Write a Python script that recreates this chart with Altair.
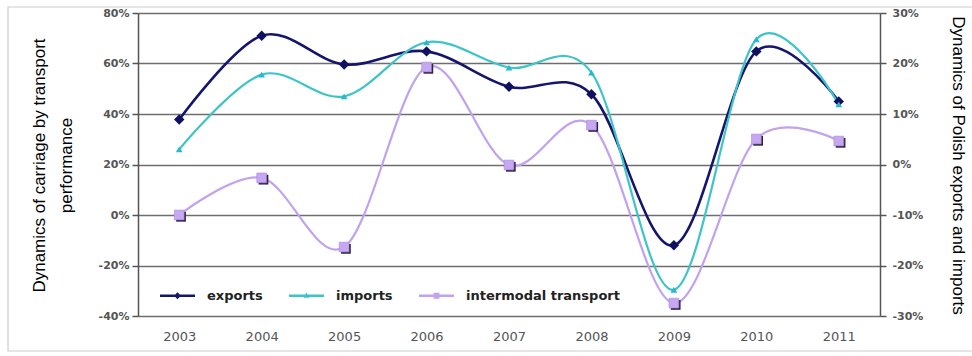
import altair as alt
import pandas as pd

years = ["2003", "2004", "2005", "2006", "2007", "2008", "2009", "2010", "2011"]
exports = [8.9, 25.5, 19.8, 22.4, 15.4, 13.9, -16.0, 22.4, 12.5]
imports = [3.0, 17.8, 13.5, 24.2, 19.2, 18.2, -24.8, 24.8, 11.9]
intermodal = [0.0, 14.7, -12.7, 58.6, 19.8, 35.6, -34.9, 30.1, 29.3]

series_names = ["exports", "imports", "intermodal transport"]
series_colors = ["#15156e", "#3cc4c8", "#c2a2ee"]

left_ticks = [-40, -20, 0, 20, 40, 60, 80]
right_ticks = [-30, -20, -10, 0, 10, 20, 30]

df_left = pd.DataFrame({"year": years, "value": intermodal})
df_exp = pd.DataFrame({"year": years, "value": exports})
df_imp = pd.DataFrame({"year": years, "value": imports})

W, H = 742, 303
FONT = "DejaVu Sans"

x_axis = alt.Axis(
    title=None, labelAngle=0, ticks=False, domain=False, grid=False,
    labelFont=FONT, labelFontSize=13, labelColor="#555555", labelPadding=14,
)
x_enc = alt.X("year:O", scale=alt.Scale(type="point", padding=0.5), axis=x_axis)

# ---------- left group (intermodal transport) ----------
left_axis = alt.Axis(
    orient="left", values=left_ticks, labelExpr="datum.value + '%'",
    grid=True, gridColor="#6e6e6e", gridWidth=1.5,
    domainColor="#555555", domainWidth=1.5, tickColor="#555555", tickWidth=1.5, tickSize=6,
    labelFont=FONT, labelFontSize=11, labelFontWeight="bold", labelColor="#555555", labelPadding=3,
    title=["Dynamics of carriage by transport", "performance"],
    titleFont="Liberation Sans", titleFontSize=17, titleFontWeight="normal", titleColor="#000000",
    titleAngle=-90, titleAlign="center", titleBaseline="middle", titleLineHeight=27,
    titleX=-99, titleY=152,
)
left_y = alt.Y("value:Q", scale=alt.Scale(domain=[-40, 80], nice=False, zero=False), axis=left_axis)

left_line = alt.Chart(df_left).mark_line(interpolate="cardinal", strokeWidth=2.2, color=series_colors[2]).encode(
    x=x_enc, y=left_y
)
left_shadow = alt.Chart(df_left).mark_square(size=95, opacity=1, xOffset=1.8, yOffset=1.8, color="#2e2340").encode(
    x=x_enc, y=left_y
)
left_pts = alt.Chart(df_left).mark_square(size=95, opacity=1, color="#c6a8f2", stroke="#a88ad6", strokeWidth=0.6).encode(
    x=x_enc, y=left_y
)
left_group = alt.layer(left_line, left_shadow, left_pts)

# ---------- right group (exports, imports) ----------
right_axis = alt.Axis(
    orient="right", values=right_ticks, labelExpr="datum.value + '%'", grid=False,
    domainColor="#555555", domainWidth=1.5, tickColor="#555555", tickWidth=1.5, tickSize=6,
    labelFont=FONT, labelFontSize=11, labelFontWeight="bold", labelColor="#555555", labelPadding=6,
    title="Dynamics of Polish exports and imports",
    titleFont="Liberation Sans", titleFontSize=17, titleFontWeight="normal", titleColor="#000000",
    titleAngle=90, titleAlign="center", titleBaseline="middle",
    titleX=77, titleY=152,
)
right_y = alt.Y("value:Q", scale=alt.Scale(domain=[-30, 30], nice=False, zero=False), axis=right_axis)

exp_line = alt.Chart(df_exp).mark_line(interpolate="cardinal", strokeWidth=2.6, color=series_colors[0]).encode(
    x=x_enc, y=right_y
)
imp_line = alt.Chart(df_imp).mark_line(interpolate="cardinal", strokeWidth=2.2, color=series_colors[1]).encode(
    x=x_enc, y=right_y
)
exp_pts = alt.Chart(df_exp).mark_point(shape="diamond", filled=True, size=110, opacity=1, color="#101060").encode(
    x=x_enc, y=right_y
)
imp_pts = alt.Chart(df_imp).mark_point(shape="triangle-up", filled=True, size=45, opacity=1, color="#2ab8d0").encode(
    x=x_enc, y=right_y
)
right_group = alt.layer(exp_line, imp_line, exp_pts, imp_pts)

# ---------- legend (line segment drawn as a thin filled bar + marker) ----------
legend_paths = [
    "M-1,-0.075H1V0.075H-1ZM0,-0.2L0.2,0L0,0.2L-0.2,0Z",
    "M-1,-0.065H1V0.065H-1ZM0,-0.18L0.17,0.12L-0.17,0.12Z",
    "M-1,-0.065H1V0.065H-1ZM-0.17,-0.17H0.17V0.17H-0.17Z",
]
leg = alt.Legend(
    title=None, orient="none", legendX=22, legendY=265, direction="horizontal",
    symbolSize=1225, symbolStrokeWidth=0, symbolOpacity=1, labelFont=FONT, labelFontSize=13,
    labelFontWeight="bold", labelColor="#222222", labelOffset=12, columnPadding=26,
)
legend_df = pd.DataFrame({"series": series_names})
legend_layer = alt.Chart(legend_df).mark_point(filled=True, opacity=1).encode(
    x=alt.value(-3000),
    y=alt.value(-3000),
    color=alt.Color("series:N", scale=alt.Scale(domain=series_names, range=series_colors), legend=leg),
    shape=alt.Shape("series:N", scale=alt.Scale(domain=series_names, range=legend_paths), legend=leg),
)

frame = alt.Chart(pd.DataFrame({"a": [0]})).mark_rect(
    filled=False, stroke="#cccccc", strokeWidth=1.2
).encode(x=alt.value(-130), x2=alt.value(W + 120), y=alt.value(-6), y2=alt.value(H + 35))

chart = (
    alt.layer(frame, left_group, right_group, legend_layer)
    .resolve_scale(y="independent")
    .properties(
        width=W, height=H,
        autosize=alt.AutoSizeParams(type="none"),
        padding={"left": 138, "top": 13, "right": 92, "bottom": 40},
        background="white",
    )
    .configure_view(stroke=None)
)

chart.save("out.html", embed_options={"renderer": "svg", "actions": False})
